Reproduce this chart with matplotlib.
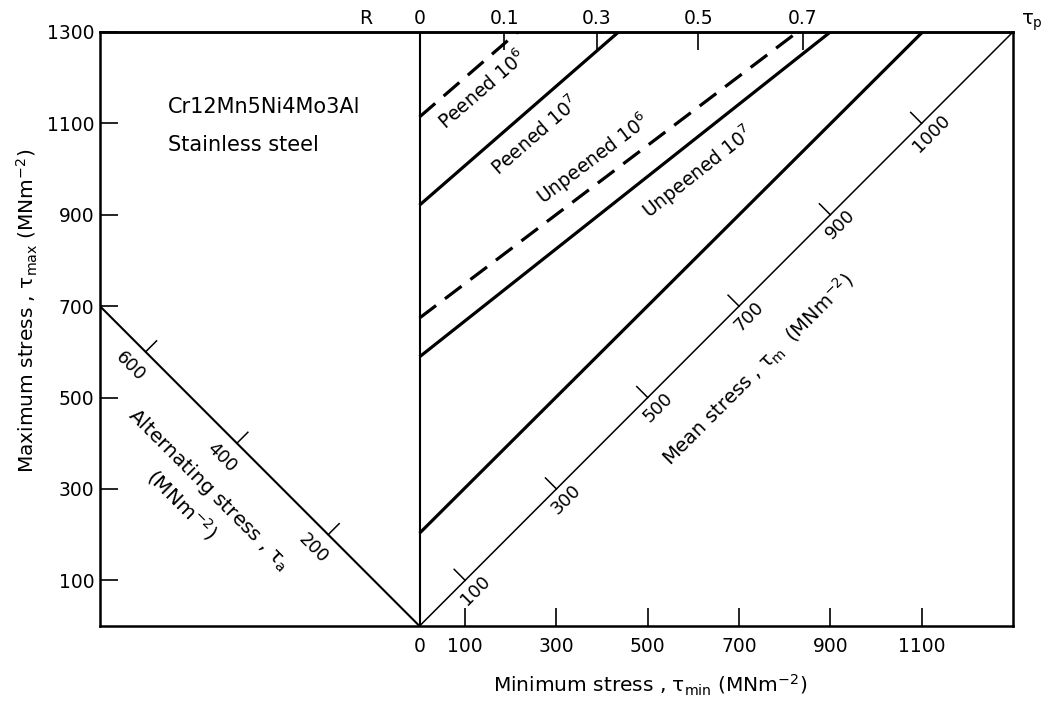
import numpy as np
import matplotlib
matplotlib.use("Agg")
import matplotlib.pyplot as plt

plt.rcParams['font.family'] = ['DejaVu Sans']
plt.rcParams['mathtext.default'] = 'regular'
plt.rcParams['font.size'] = 13

# axis ticks
x_ticks = [0, 100, 300, 500, 700, 900, 1100]
y_ticks = [100, 300, 500, 700, 900, 1100, 1300]
r_pos = [-118, 0, 186, 388, 611, 839]
r_labels = ['R', '0', '0.1', '0.3', '0.5', '0.7']

# fatigue lines: tau_max at tau_min = 0, and tau_min where they hit 1300
line_names = ['Peened 10$^6$', 'Peened 10$^7$', 'Unpeened 10$^6$', 'Unpeened 10$^7$', '']
line_y0 = [1114, 921, 674, 589, 203]
line_x1 = [215, 436, 828, 900, 1102]
line_dashed = [True, False, True, False, False]
label_x = [138, 254, 381, 611]
label_y = [1173, 1074, 1022, 993]

# mean stress scale along tau_max = tau_min
mean_pos = [100, 300, 500, 700, 900, 1100]
mean_labels = ['100', '300', '500', '700', '900', '1000']
# alternating stress scale along tau_max = -tau_min
alt_pos = [200, 400, 600]
alt_labels = ['200', '400', '600']

fig = plt.figure(figsize=(10.51, 7.03), dpi=100)
ax = fig.add_axes([0.0951, 0.1095, 0.8687, 0.845])
ax.set_xlim(-700, 1300)
ax.set_ylim(0, 1300)

for s in ax.spines.values():
    s.set_linewidth(1.8)

# frame lines
ax.plot([0, 0], [0, 1300], color='black', lw=1.5)
ax.plot([-700, 0], [700, 0], color='black', lw=1.5)
ax.plot([0, 1300], [0, 1300], color='black', lw=1.1)

# fatigue lines
for i in range(len(line_y0)):
    ls = (0, (6.5, 3.5)) if line_dashed[i] else '-'
    ax.plot([0, line_x1[i]], [line_y0[i], 1300], color='black', lw=2.3, ls=ls,
            solid_capstyle='butt')

for i in range(len(label_x)):
    ang = np.degrees(np.arctan((1300 - line_y0[i]) / line_x1[i]))
    ax.text(label_x[i], label_y[i], line_names[i], rotation=ang, rotation_mode='anchor',
            ha='center', va='center', fontsize=13.5)

# mean stress ticks
d = 24
for t, lab in zip(mean_pos, mean_labels):
    ax.plot([t, t - d], [t, t + d], color='black', lw=1.1)
    ax.text(t + 22, t - 22, lab, rotation=45, rotation_mode='anchor',
            ha='center', va='center', fontsize=13)

# alternating stress ticks
for a, lab in zip(alt_pos, alt_labels):
    ax.plot([-a, -a + d], [a, a + d], color='black', lw=1.1)
    ax.text(-a - 33, a - 31, lab, rotation=-45, rotation_mode='anchor',
            ha='center', va='center', fontsize=13)

ax.text(-552, 1136, 'Cr12Mn5Ni4Mo3Al', ha='left', va='center', fontsize=15)
ax.text(-552, 1052, 'Stainless steel', ha='left', va='center', fontsize=15)
ax.text(743, 560, r'Mean stress , $\tau_m$  (MNm$^{-2}$)', rotation=45,
        rotation_mode='anchor', ha='center', va='center', fontsize=14)
ax.text(-462, 298, r'Alternating stress , $\tau_a$', rotation=-45,
        rotation_mode='anchor', ha='center', va='center', fontsize=14.5)
ax.text(-521, 267, r'(MNm$^{-2}$)', rotation=-45,
        rotation_mode='anchor', ha='center', va='center', fontsize=14.5)
ax.text(1318, 1322, r'$\tau_p$', ha='left', va='center', fontsize=14, clip_on=False)

# bottom / left ticks
ax.set_xticks(x_ticks)
ax.set_xticklabels([str(v) for v in x_ticks])
ax.set_yticks(y_ticks)
ax.set_yticklabels([str(v) for v in y_ticks])
ax.tick_params(axis='x', direction='in', length=13, width=1.2, pad=8, labelsize=13.5)
ax.tick_params(axis='y', direction='in', length=13, width=1.2, pad=4, labelsize=13.5)
ax.xaxis.get_major_ticks()[0].tick1line.set_visible(False)

# R scale on top
sec = ax.secondary_xaxis('top')
sec.set_xticks(r_pos)
sec.set_xticklabels(r_labels)
sec.tick_params(direction='in', length=13, width=1.2, pad=3, labelsize=13.5)
sec.spines['top'].set_linewidth(1.8)
for t in sec.xaxis.get_major_ticks()[:2]:
    t.tick1line.set_visible(False)
    t.tick2line.set_visible(False)

fig.text(650 / 1051, 1 - 685 / 703, r'Minimum stress , $\tau_{min}$ (MNm$^{-2}$)',
         ha='center', va='center', fontsize=14.5)
fig.text(27 / 1051, 1 - 311 / 703, r'Maximum stress , $\tau_{max}$ (MNm$^{-2}$)',
         ha='center', va='center', rotation=90, fontsize=14.5)

fig.savefig('out.png', dpi=100)
